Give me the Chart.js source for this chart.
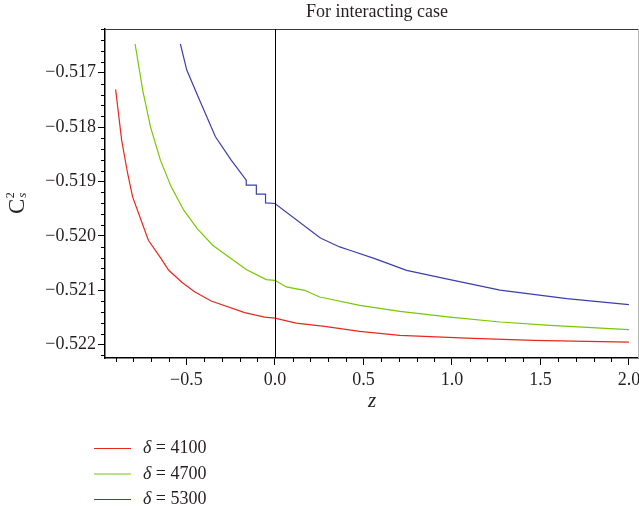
<!DOCTYPE html>
<html>
<head>
<meta charset="utf-8">
<script src="https://cdn.jsdelivr.net/npm/chart.js@4.4.1/dist/chart.umd.min.js"></script>
<style>
  html, body { margin: 0; padding: 0; background: #fff; overflow: hidden; }
  #wrap { width: 754px; height: 513px; }
</style>
</head>
<body>
<div id="wrap"><canvas id="chart" width="754" height="513"></canvas></div>
<script>
// --- data ---
const deltaLabels = ['4100', '4700', '5300'];
const lineColors = ['#e8281c', '#78c800', '#3b3eac'];

const z4100 = [-0.900, -0.866, -0.832, -0.804, -0.756, -0.715, -0.643, -0.600, -0.524, -0.454, -0.360, -0.171, -0.058, 0.000, 0.120, 0.281, 0.479, 0.706, 1.083, 1.460, 2.000];
const c4100 = [-0.517306, -0.518239, -0.518853, -0.519284, -0.519713, -0.520081, -0.520418, -0.520634, -0.520857, -0.521030, -0.521199, -0.521413, -0.521494, -0.521512, -0.521604, -0.521665, -0.521757, -0.521831, -0.521880, -0.521923, -0.521954];

const z4700 = [-0.790, -0.747, -0.703, -0.647, -0.586, -0.515, -0.439, -0.351, -0.313, -0.162, -0.049, 0.000, 0.064, 0.168, 0.253, 0.281, 0.479, 0.706, 0.989, 1.272, 1.555, 2.000];
const c4700 = [-0.516471, -0.517319, -0.517994, -0.518608, -0.519099, -0.519528, -0.519866, -0.520173, -0.520265, -0.520621, -0.520805, -0.520818, -0.520940, -0.521002, -0.521125, -0.521143, -0.521278, -0.521389, -0.521494, -0.521585, -0.521646, -0.521726];

const z5300 = [-0.534, -0.498, -0.426, -0.336, -0.247, -0.162, -0.162, -0.105, -0.105, -0.053, -0.053, 0.000, 0.253, 0.263, 0.366, 0.423, 0.564, 0.744, 0.989, 1.272, 1.649, 2.000];
const c5300 = [-0.516471, -0.516950, -0.517503, -0.518178, -0.518608, -0.518976, -0.519068, -0.519068, -0.519234, -0.519234, -0.519394, -0.519405, -0.520032, -0.520050, -0.520204, -0.520265, -0.520418, -0.520634, -0.520805, -0.521000, -0.521155, -0.521265];

const zSeries = [z4100, z4700, z5300];
const cSeries = [c4100, c4700, c5300];

const xMajorTicks = [-0.5, 0.0, 0.5, 1.0, 1.5, 2.0];
const yMajorTicks = [-0.522, -0.521, -0.520, -0.519, -0.518, -0.517];

const SERIF = '"Liberation Serif", "DejaVu Serif", serif';
const TEXT = '#231f20';

// title, y label, frame, zero line, minor ticks and the legend
const decorPlugin = {
    id: 'decor',
    afterDraw(chart) {
        const { ctx, chartArea: a, scales: { x, y } } = chart;
        ctx.save();

        // top and right frame
        ctx.lineWidth = 1;
        ctx.strokeStyle = '#3a3a3a';
        ctx.beginPath(); ctx.moveTo(a.left, a.top + 0.5); ctx.lineTo(a.right, a.top + 0.5); ctx.stroke();
        ctx.strokeStyle = '#b5b5b5';
        ctx.beginPath(); ctx.moveTo(a.right - 0.5, a.top); ctx.lineTo(a.right - 0.5, a.bottom); ctx.stroke();

        // vertical line at z = 0
        const x0 = Math.round(x.getPixelForValue(0)) + 0.5;
        ctx.strokeStyle = '#000';
        ctx.beginPath(); ctx.moveTo(x0, a.top); ctx.lineTo(x0, a.bottom); ctx.stroke();

        // minor ticks
        ctx.strokeStyle = '#000';
        ctx.lineWidth = 1;
        for (let i = -9; i <= 20; i++) {
            if (i % 5 === 0) continue;
            const px = Math.round(x.getPixelForValue(i / 10)) + 0.5;
            if (px < a.left || px > a.right) continue;
            ctx.beginPath(); ctx.moveTo(px, a.bottom); ctx.lineTo(px, a.bottom + 4); ctx.stroke();
        }
        for (let i = -5222; i <= -5162; i += 2) {
            if (i % 10 === 0) continue;
            const py = Math.round(y.getPixelForValue(i / 10000)) + 0.5;
            if (py < a.top || py > a.bottom) continue;
            ctx.beginPath(); ctx.moveTo(a.left, py); ctx.lineTo(a.left - 4, py); ctx.stroke();
        }

        // title
        ctx.fillStyle = TEXT;
        ctx.font = '18px ' + SERIF;
        ctx.textAlign = 'center';
        ctx.textBaseline = 'alphabetic';
        ctx.fillText('For interacting case', (a.left + a.right) / 2 + 5, 17);

        // y axis label  C_s^2
        ctx.save();
        ctx.translate(24, 214);
        ctx.rotate(-Math.PI / 2);
        ctx.textAlign = 'left';
        ctx.font = '23px ' + SERIF;
        ctx.fillText('C', 0, 0);
        const cw = ctx.measureText('C').width;
        ctx.font = '12px ' + SERIF;
        ctx.fillText('2', cw + 0.5, -10);
        ctx.font = 'italic 13px ' + SERIF;
        ctx.fillText('s', cw + 1, 2);
        ctx.restore();

        // legend
        chart.data.datasets.forEach((ds, i) => {
            const ly = 448.5 + i * 25.5;
            ctx.strokeStyle = ds.borderColor;
            ctx.lineWidth = 1.2;
            ctx.beginPath(); ctx.moveTo(94, ly); ctx.lineTo(131, ly); ctx.stroke();
            ctx.fillStyle = TEXT;
            ctx.textAlign = 'left';
            ctx.textBaseline = 'middle';
            ctx.font = 'italic 18px ' + SERIF;
            ctx.fillText('\u03B4', 143, ly);
            const dw = ctx.measureText('\u03B4').width;
            ctx.font = '18px ' + SERIF;
            ctx.fillText(' = ' + deltaLabels[i], 143 + dw, ly);
        });

        ctx.restore();
    }
};

const datasets = deltaLabels.map((d, k) => ({
    label: '\u03B4 = ' + d,
    data: zSeries[k].map((zv, i) => ({ x: zv, y: cSeries[k][i] })),
    borderColor: lineColors[k],
    backgroundColor: lineColors[k],
    borderWidth: 1.2,
    pointRadius: 0,
    tension: 0,
    fill: false
}));

const fmtMinus = (s) => s.replace('-', '\u2212');

new Chart(document.getElementById('chart').getContext('2d'), {
    type: 'line',
    data: { datasets },
    options: {
        responsive: false,
        devicePixelRatio: 1,
        animation: false,
        layout: { padding: { left: 0, right: 115, top: 29, bottom: 99 } },
        plugins: {
            legend: { display: false },
            title: { display: false },
            tooltip: { enabled: false }
        },
        scales: {
            x: {
                type: 'linear',
                min: -0.96,
                max: 2.057,
                afterBuildTicks: (scale) => { scale.ticks = xMajorTicks.map(v => ({ value: v })); },
                afterFit: (scale) => { scale.height = 56; },
                border: { color: '#000', width: 1.5 },
                grid: { drawOnChartArea: false, drawTicks: true, tickLength: 7, color: '#000' },
                ticks: {
                    color: TEXT,
                    padding: 4,
                    maxRotation: 0,
                    font: { family: SERIF, size: 18 },
                    callback: (v) => fmtMinus(Number(v).toFixed(1))
                },
                title: {
                    display: true,
                    text: 'z',
                    color: TEXT,
                    padding: 0,
                    font: { family: SERIF, size: 21, style: 'italic' }
                }
            },
            y: {
                type: 'linear',
                min: -0.522247,
                max: -0.516195,
                afterBuildTicks: (scale) => { scale.ticks = yMajorTicks.map(v => ({ value: v })); },
                afterFit: (scale) => { scale.width = 105; },
                border: { color: '#000', width: 1.5 },
                grid: { drawOnChartArea: false, drawTicks: true, tickLength: 7, color: '#000' },
                ticks: {
                    color: TEXT,
                    padding: 2,
                    font: { family: SERIF, size: 18 },
                    callback: (v) => fmtMinus(Number(v).toFixed(3))
                }
            }
        }
    },
    plugins: [decorPlugin]
});
</script>
</body>
</html>
